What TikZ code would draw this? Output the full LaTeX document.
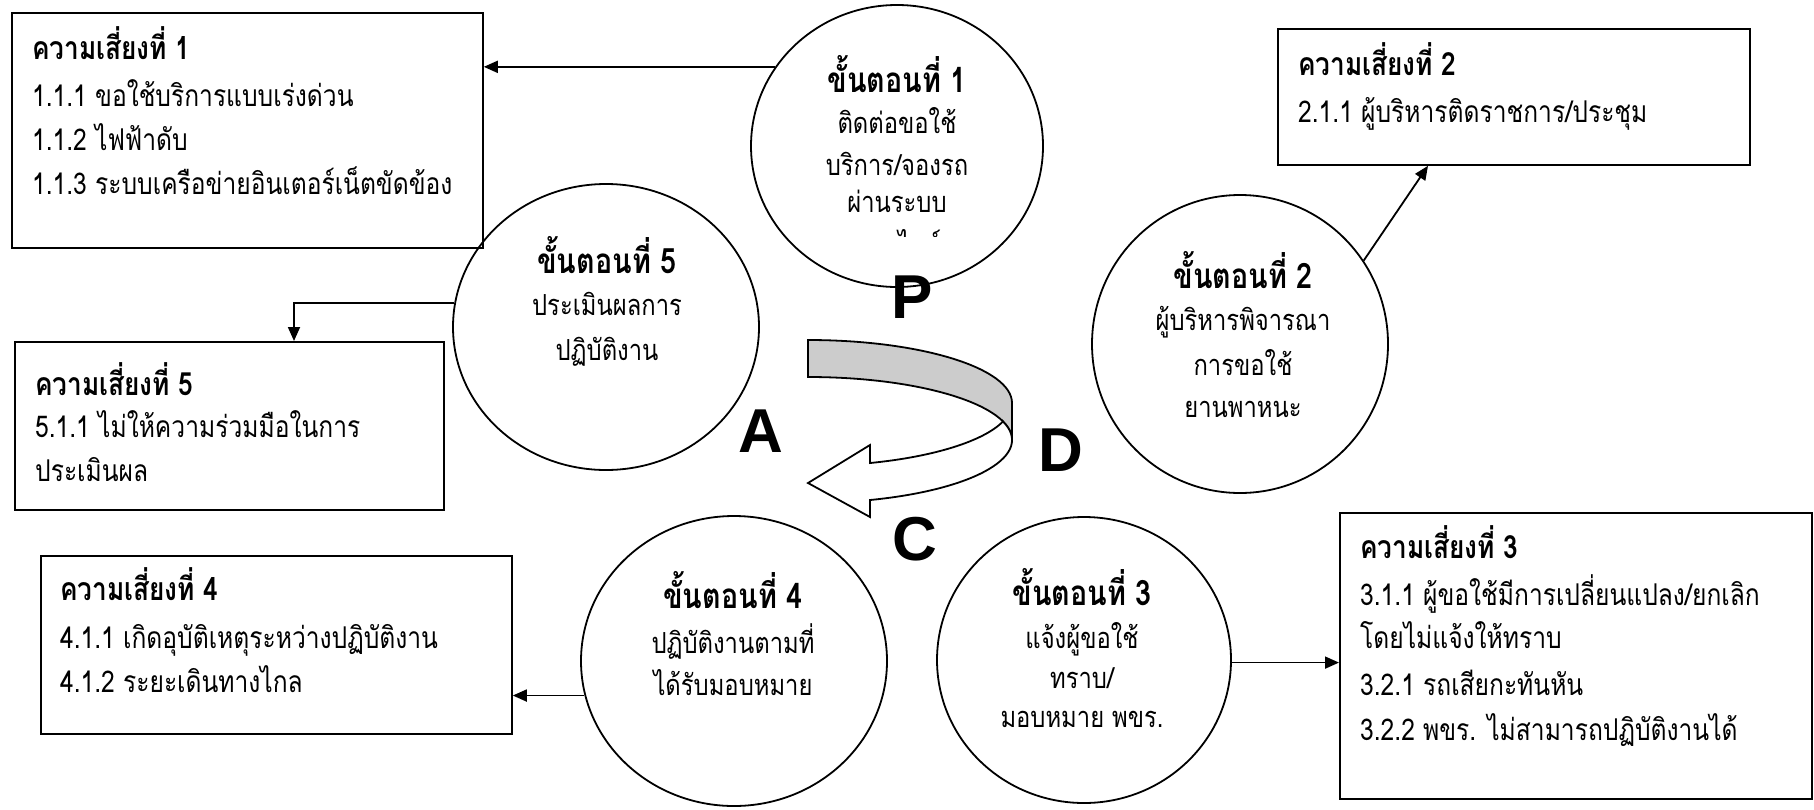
\documentclass[tikz,border=0pt]{standalone}
\usepackage{fontspec}
\setmainfont[Script=Thai, FakeStretch=0.82]{Loma}
\newfontfamily\pdcafont{Liberation Sans}
\usetikzlibrary{shapes.geometric,arrows.meta,calc}
\definecolor{bandgray}{HTML}{CCCCCC}
\begin{document}
\begin{tikzpicture}[x=1pt,y=1pt,
  box/.style={draw, line width=1.8pt, rectangle, inner sep=0pt, anchor=north west},
  stepnode/.style={draw, line width=1.8pt, ellipse, inner sep=0pt},
  ttl/.style={font=\bfseries\fontsize{32}{32}\selectfont, anchor=base west, inner sep=0pt},
  txt/.style={font=\fontsize{30}{30}\selectfont, anchor=base west, inner sep=0pt},
  ctl/.style={font=\bfseries\fontsize{35}{35}\selectfont, anchor=base, inner sep=0pt},
  ctx/.style={font=\fontsize{29}{29}\selectfont, anchor=base, inner sep=0pt},
  arr/.style={line width=1.8pt, -{Triangle[length=14pt,width=12pt]}},
  pdca/.style={font=\pdcafont\bfseries\fontsize{62}{62}\selectfont, inner sep=0pt},
  band/.style={line width=1.8pt}
]
\useasboundingbox (0,0) rectangle (1814,-809);
\fill[white] (0,0) rectangle (1814,-809);

% risk boxes
\node[box, minimum width=471pt, minimum height=235pt] (r1) at (11,-12) {};
\node[box, minimum width=472pt, minimum height=136pt] (r2) at (1277,-28) {};
\node[box, minimum width=472pt, minimum height=286pt] (r3) at (1339,-512) {};
\node[box, minimum width=471pt, minimum height=178pt] (r4) at (40,-555) {};
\node[box, minimum width=429pt, minimum height=168pt] (r5) at (14,-341) {};

% step circles
\node[stepnode, minimum width=292pt, minimum height=282pt] (c1) at (897,-146) {};
\node[stepnode, minimum width=296pt, minimum height=298pt] (c2) at (1240,-344) {};
\node[stepnode, minimum width=294pt, minimum height=286pt] (c3) at (1084,-660) {};
\node[stepnode, minimum width=306pt, minimum height=290pt] (c4) at (734,-661) {};
\node[stepnode, minimum width=306pt, minimum height=286pt] (c5) at (606,-327) {};

% box texts
\node[ttl] (r1t) at (32,-59) {ความเสี่ยงที่ 1};
\node[txt] (r1a) at (32,-106) {1.1.1 ขอใช้บริการแบบเร่งด่วน};
\node[txt] (r1b) at (32,-150) {1.1.2 ไฟฟ้าดับ};
\node[txt] (r1c) at (32,-194) {1.1.3 ระบบเครือข่ายอินเตอร์เน็ตขัดข้อง};

\node[ttl] (r2t) at (1298,-75) {ความเสี่ยงที่ 2};
\node[txt] (r2a) at (1298,-122) {2.1.1 ผู้บริหารติดราชการ/ประชุม};

\node[ttl] (r3t) at (1360,-558) {ความเสี่ยงที่ 3};
\node[txt] (r3a) at (1360,-605) {3.1.1 ผู้ขอใช้มีการเปลี่ยนแปลง/ยกเลิก};
\node[txt] (r3b) at (1360,-648) {โดยไม่แจ้งให้ทราบ};
\node[txt] (r3c) at (1360,-695) {3.2.1 รถเสียกะทันหัน};
\node[txt] (r3d) at (1360,-740) {3.2.2 พขร. ไม่สามารถปฏิบัติงานได้};

\node[ttl] (r4t) at (60,-600) {ความเสี่ยงที่ 4};
\node[txt] (r4a) at (60,-648) {4.1.1 เกิดอุบัติเหตุระหว่างปฏิบัติงาน};
\node[txt] (r4b) at (60,-692) {4.1.2 ระยะเดินทางไกล};

\node[ttl] (r5t) at (35,-395) {ความเสี่ยงที่ 5};
\node[txt] (r5a) at (35,-437) {5.1.1 ไม่ให้ความร่วมมือในการ};
\node[txt] (r5b) at (35,-481) {ประเมินผล};

% circle texts
\node[ctl] (c1t) at (897,-92) {ขั้นตอนที่ 1};
\node[ctx] (c1a) at (897,-133) {ติดต่อขอใช้};
\node[ctx] (c1b) at (897,-175) {บริการ/จองรถ};
\node[ctx] (c1c) at (897,-212) {ผ่านระบบ};
\begin{scope}
\clip (800,-220) rectangle (1000,-236);
\node[ctx] (c1d) at (897,-255) {ออนไลน์};
\end{scope}

\node[ctl] (c2t) at (1243,-288) {ขั้นตอนที่ 2};
\node[ctx] (c2a) at (1243,-330) {ผู้บริหารพิจารณา};
\node[ctx] (c2b) at (1243,-375) {การขอใช้};
\node[ctx] (c2c) at (1243,-417) {ยานพาหนะ};

\node[ctl] (c3t) at (1082,-605) {ขั้นตอนที่ 3};
\node[ctx] (c3a) at (1082,-648) {แจ้งผู้ขอใช้};
\node[ctx] (c3b) at (1082,-688) {ทราบ/};
\node[ctx] (c3c) at (1082,-727) {มอบหมาย พขร.};

\node[ctl] (c4t) at (733,-608) {ขั้นตอนที่ 4};
\node[ctx] (c4a) at (733,-653) {ปฏิบัติงานตามที่};
\node[ctx] (c4b) at (733,-695) {ได้รับมอบหมาย};

\node[ctl] (c5t) at (607,-273) {ขั้นตอนที่ 5};
\node[ctx] (c5a) at (607,-315) {ประเมินผลการ};
\node[ctx] (c5b) at (607,-360) {ปฏิบัติงาน};

% connectors
\draw[arr] (c1.147) -- (c1.147 -| r1.east);
\draw[arr] (c2.34) -- ([xshift=151pt]r2.south west);
\draw[arr] (c3.-1) -- (c3.-1 -| r3.west);
\draw[arr] (c4.193) -- (c4.193 -| r4.east);
\draw[arr] (c5.171) -| ([xshift=280pt]r5.north west);

% PDCA ribbon arrow
\filldraw[band, fill=bandgray] (808,-340)
  arc[start angle=90, end angle=0, x radius=204, y radius=63]
  -- (1012,-440)
  arc[start angle=0, end angle=90, x radius=204, y radius=63] -- cycle;
\filldraw[band, fill=white]
  ($(808,-403)+(-17.08:204 and 63)$)
  arc[start angle=-17.08, end angle=-72.3, x radius=204, y radius=63]
  -- (870,-445) -- (808,-483) -- (870,-517)
  -- ($(808,-440)+(-72.3:204 and 63)$)
  arc[start angle=-72.3, end angle=17.08, x radius=204, y radius=63] -- cycle;

% PDCA letters
\node[pdca] (lp) at (912,-297) {P};
\node[pdca] (la) at (761,-431) {A};
\node[pdca] (ld) at (1061,-450) {D};
\node[pdca] (lc) at (915,-539) {C};
\end{tikzpicture}
\end{document}
